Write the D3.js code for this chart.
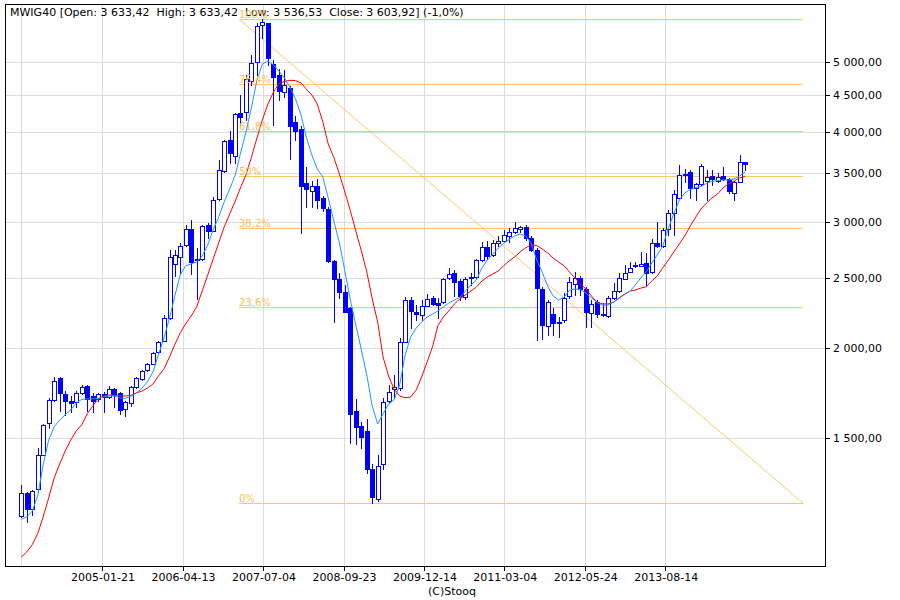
<!DOCTYPE html>
<html><head><meta charset="utf-8">
<script src="https://cdn.jsdelivr.net/npm/d3@7"></script>
<style>
body{margin:0;background:#fff}
svg{display:block;font-family:"DejaVu Sans",sans-serif}
</style>
</head><body>
<svg id="chart" width="900" height="600"></svg>
<script>
// ---------------- DATA ----------------
const title = "MWIG40 [Open: 3 633,42\u00a0\u00a0High: 3 633,42\u00a0\u00a0Low: 3 536,53\u00a0\u00a0Close: 3 603,92] (-1,0%)";
const credit = "(C)Stooq";

const months = [
"2003-10","2003-11","2003-12",
"2004-01","2004-02","2004-03","2004-04","2004-05","2004-06","2004-07","2004-08","2004-09","2004-10","2004-11","2004-12",
"2005-01","2005-02","2005-03","2005-04","2005-05","2005-06","2005-07","2005-08","2005-09","2005-10","2005-11","2005-12",
"2006-01","2006-02","2006-03","2006-04","2006-05","2006-06","2006-07","2006-08","2006-09","2006-10","2006-11","2006-12",
"2007-01","2007-02","2007-03","2007-04","2007-05","2007-06","2007-07","2007-08","2007-09","2007-10","2007-11","2007-12",
"2008-01","2008-02","2008-03","2008-04","2008-05","2008-06","2008-07","2008-08","2008-09","2008-10","2008-11","2008-12",
"2009-01","2009-02","2009-03","2009-04","2009-05","2009-06","2009-07","2009-08","2009-09","2009-10","2009-11","2009-12",
"2010-01","2010-02","2010-03","2010-04","2010-05","2010-06","2010-07","2010-08","2010-09","2010-10","2010-11","2010-12",
"2011-01","2011-02","2011-03","2011-04","2011-05","2011-06","2011-07","2011-08","2011-09","2011-10","2011-11","2011-12",
"2012-01","2012-02","2012-03","2012-04","2012-05","2012-06","2012-07","2012-08","2012-09","2012-10","2012-11","2012-12",
"2013-01","2013-02","2013-03","2013-04","2013-05","2013-06","2013-07","2013-08","2013-09","2013-10","2013-11","2013-12",
"2014-01","2014-02","2014-03","2014-04","2014-05","2014-06","2014-07","2014-08","2014-09","2014-10"];

const open = [
1168,1257,1194,1273,1421,1572,1692,1816,1727,1687,
1682,1731,1771,1716,1698,1727,1709,1753,1731,1648,
1676,1764,1810,1865,1904,1977,2047,2200,2615,2675,
2783,2926,2665,2658,2967,2914,3221,3530,3895,3705,
4243,4257,4709,5005,5630,5660,4968,4791,4549,4600,
4124,4035,3399,3303,3363,3232,3126,2641,2496,2395,
2271,1637,1559,1535,1360,1233,1381,1690,1753,1762,
2042,2333,2243,2224,2291,2346,2308,2319,2501,2546,
2477,2358,2501,2509,2652,2763,2695,2801,2822,2866,
2904,2929,2950,2846,2739,2417,2149,2229,2177,2189,
2364,2457,2501,2417,2237,2317,2231,2217,2346,2401,
2496,2551,2599,2603,2630,2554,2804,2774,2929,3080,
3237,3489,3511,3344,3380,3416,3475,3416,3471,3438,
3292,3409,3633.42];

const high = [
1290,1263,1270,1455,1570,1705,1823,1823,1743,1716,
1745,1777,1777,1731,1733,1738,1771,1759,1740,1689,
1771,1823,1865,1908,1976,2046,2224,2739,2739,2798,
2967,3015,2754,2967,2982,3248,3653,3895,4013,4243,
4498,4797,5118,5660,5733,5671,5032,4885,4874,4630,
4207,4075,3569,3416,3438,3256,3147,2652,2545,2448,
2282,1700,1581,1593,1382,1420,1705,1777,1835,2065,
2358,2358,2297,2333,2375,2364,2346,2504,2588,2571,
2496,2512,2545,2665,2812,2818,2828,2865,2920,2935,
3000,2962,2967,2860,2752,2432,2333,2272,2212,2383,
2514,2555,2520,2435,2333,2333,2308,2364,2463,2542,
2612,2638,2638,2722,2713,2837,2997,2940,3113,3319,
3596,3555,3538,3394,3607,3538,3538,3505,3577,3449,
3416,3713,3633.42];

const low = [
1166,1148,1172,1262,1419,1550,1689,1637,1613,1632,
1657,1727,1637,1632,1689,1632,1705,1659,1620,1609,
1664,1760,1806,1859,1902,1974,2046,2196,2520,2542,
2774,2534,2338,2652,2843,2911,3214,3519,3615,3615,
4087,4153,4645,4797,5400,4953,4087,4427,4463,3665,
3895,2889,3145,3142,3133,3106,2638,2178,2345,2246,
1475,1471,1453,1340,1217,1227,1360,1676,1703,1749,
2040,2132,2189,2189,2289,2297,2200,2314,2496,2364,
2333,2341,2448,2504,2644,2658,2686,2774,2818,2812,
2891,2903,2828,2730,2053,2060,2087,2087,2075,2177,
2349,2371,2371,2143,2143,2212,2217,2210,2341,2397,
2492,2549,2591,2599,2448,2546,2766,2766,2874,2874,
3234,3405,3234,3214,3369,3214,3369,3405,3427,3292,
3209,3405,3536.53];

const close = [
1257,1194,1266,1419,1562,1692,1802,1731,1687,1679,
1731,1764,1700,1687,1725,1709,1753,1725,1641,1682,
1764,1816,1859,1902,1969,2038,2200,2675,2692,2777,
2926,2638,2652,2958,2914,3214,3538,3883,3733,4229,
4197,4735,4979,5612,5675,5060,4761,4561,4645,4074,
4012,3363,3325,3363,3211,3133,2645,2496,2392,2248,
1620,1555,1506,1360,1241,1373,1682,1736,1764,2042,
2333,2255,2231,2291,2338,2304,2297,2493,2538,2472,
2364,2496,2514,2652,2763,2688,2798,2823,2873,2903,
2937,2950,2846,2736,2422,2154,2317,2166,2168,2351,
2472,2501,2417,2248,2301,2229,2224,2346,2401,2501,
2546,2584,2607,2621,2546,2804,2774,2920,3080,3272,
3485,3484,3337,3380,3584,3463,3435,3463,3435,3303,
3400,3630,3603.92];

// fast moving average (light blue)
const maFast = [
1156,1165,1187,1249,1376,1490,1554,1589,1615,1641,
1678,1697,1700,1700,1703,1711,1716,1716,1705,1703,
1714,1733,1760,1795,1853,1957,2066,2203,2356,2528,
2603,2620,2635,2686,2783,2920,3045,3193,3330,3482,
3725,3996,4315,4720,4968,5016,4953,4858,4750,4616,
4442,4220,3933,3712,3549,3459,3235,3006,2801,2561,
2333,2154,1988,1829,1667,1569,1620,1673,1694,1777,
1957,2073,2133,2175,2210,2231,2253,2282,2311,2333,
2352,2401,2448,2488,2586,2652,2704,2757,2796,2832,
2865,2883,2865,2801,2652,2553,2440,2364,2333,2356,
2409,2417,2413,2386,2349,2315,2293,2297,2318,2345,
2375,2401,2448,2504,2553,2627,2695,2774,2938,3074,
3214,3287,3324,3346,3357,3391,3411,3422,3427,3427,
3438,3471,3515];

// slow moving average (red)
const maSlow = [
1025,1041,1066,1106,1165,1238,1319,1380,1438,1490,
1534,1564,1620,1661,1700,1716,1721,1719,1716,1716,
1719,1733,1743,1760,1783,1829,1871,1945,2020,2100,
2161,2217,2281,2401,2528,2661,2801,2948,3074,3204,
3340,3482,3682,3920,4153,4371,4542,4662,4700,4715,
4712,4676,4585,4498,4371,4127,3845,3682,3493,3298,
3103,2911,2730,2545,2349,2176,1945,1829,1755,1716,
1706,1710,1749,1823,1914,2013,2147,2210,2253,2304,
2341,2371,2401,2432,2480,2512,2537,2561,2603,2644,
2677,2721,2757,2783,2779,2748,2713,2669,2635,2603,
2553,2504,2456,2417,2364,2318,2304,2304,2318,2349,
2379,2401,2409,2424,2434,2480,2520,2586,2652,2721,
2792,2865,2958,3045,3123,3183,3235,3277,3340,3384,
3416,3449,3466];

const yTicks = [1500,2000,2500,3000,3500,4000,4500,5000];
const yDomain = [992.4, 6001.3];
const xGridStart = "2003-10-31";
const xTickDates = ["2005-01-21","2006-04-13","2007-07-04","2008-09-23","2009-12-14","2011-03-04","2012-05-24","2013-08-14"];

const fibLevels = [1, 0.764, 0.618, 0.5, 0.382, 0.236, 0];
const fibLabels = ["100%","76,4%","61,8%","50%","38,2%","23,6%","0%"];
const fibHigh = 5733, fibLow = 1217;
const fibStart = "2007-02-22", fibEnd = "2015-09-19";

// ---------------- LAYOUT ----------------
const W = 900, H = 600;
const plot = {left: 5.5, right: 825.5, top: 4.5, bottom: 566.5};
const COL_CANDLE = "#0000ff", COL_FAST = "#1e96ff", COL_SLOW = "#ff0000",
      COL_FIB = "#ffc864", COL_FIB_TEXT = "#fbbd50", COL_GRID = "#dcdcdc";

const parseDay = d3.utcParse("%Y-%m-%d");
const monthEnd = s => { const [yy, mm] = s.split("-").map(Number); return new Date(Date.UTC(yy, mm, 0)); };
const dates = months.map(monthEnd);

const x = d3.scaleUtc()
  .domain([parseDay(xGridStart), parseDay(xTickDates[xTickDates.length - 1])])
  .range([21.3, 665.3]);
const y = d3.scaleLog().domain(yDomain).range([567, 5]);

const crisp = v => Math.round(v) + 0.5;
const loc = d3.formatLocale({decimal: ",", thousands: " ", grouping: [3], currency: ["", ""]});
const fmt = loc.format(",.2f");

const svg = d3.select("#chart");
svg.append("rect").attr("width", W).attr("height", H).attr("fill", "#fff");

// grid
const grid = svg.append("g").attr("stroke", COL_GRID).attr("stroke-width", 1).attr("shape-rendering", "crispEdges");
grid.selectAll("line.h").data(yTicks).join("line").attr("class", "h")
  .attr("x1", plot.left).attr("x2", plot.right)
  .attr("y1", d => crisp(y(d))).attr("y2", d => crisp(y(d)));
const gridDates = [xGridStart, ...xTickDates].map(parseDay);
grid.selectAll("line.v").data(gridDates).join("line").attr("class", "v")
  .attr("y1", plot.top).attr("y2", plot.bottom)
  .attr("x1", d => crisp(x(d))).attr("x2", d => crisp(x(d)));

// fibonacci retracement
const fx1 = x(parseDay(fibStart)), fx2 = x(parseDay(fibEnd));
const fib = svg.append("g");
fibLevels.forEach((lv, k) => {
  const py = crisp(y(fibLow + lv * (fibHigh - fibLow)));
  fib.append("line").attr("x1", Math.round(fx1)).attr("x2", Math.round(fx2))
    .attr("y1", py).attr("y2", py).attr("stroke", COL_FIB).attr("stroke-width", 1)
    .attr("shape-rendering", "crispEdges");
});
fib.append("line")
  .attr("x1", fx1).attr("y1", y(fibHigh)).attr("x2", fx2).attr("y2", y(fibLow))
  .attr("stroke", COL_FIB).attr("stroke-width", 1);

// candles
const rows = dates.map((d, i) => ({d, o: open[i], h: high[i], l: low[i], c: close[i]}));
const cg = svg.append("g").attr("shape-rendering", "crispEdges");
rows.forEach(r => {
  const cx = crisp(x(r.d));
  cg.append("line").attr("x1", cx).attr("x2", cx)
    .attr("y1", Math.round(y(r.h))).attr("y2", Math.round(y(r.l)) + 1)
    .attr("stroke", COL_CANDLE);
  const t = crisp(y(Math.max(r.o, r.c))), b = crisp(y(Math.min(r.o, r.c)));
  const up = r.c >= r.o;
  cg.append("rect").attr("x", cx - 2).attr("width", 4)
    .attr("y", t).attr("height", Math.max(b - t, 0.01))
    .attr("fill", up ? "#fff" : COL_CANDLE).attr("stroke", COL_CANDLE);
});

// moving averages
const lineFn = arr => d3.line().x((d, i) => x(dates[i])).y(d => y(d))(arr);
svg.append("path").attr("d", lineFn(maSlow)).attr("fill", "none").attr("stroke", COL_SLOW).attr("stroke-width", 1);
svg.append("path").attr("d", lineFn(maFast)).attr("fill", "none").attr("stroke", COL_FAST).attr("stroke-width", 1);

// frame & axes
const fr = svg.append("g").attr("stroke", "#000").attr("shape-rendering", "crispEdges");
fr.append("rect").attr("x", plot.left).attr("y", plot.top)
  .attr("width", plot.right - plot.left).attr("height", plot.bottom - plot.top).attr("fill", "none");
fr.selectAll("line.yt").data(yTicks).join("line").attr("class", "yt")
  .attr("x1", plot.right).attr("x2", plot.right + 4)
  .attr("y1", d => crisp(y(d))).attr("y2", d => crisp(y(d)));
fr.selectAll("line.xt").data(xTickDates.map(parseDay)).join("line").attr("class", "xt")
  .attr("y1", plot.bottom).attr("y2", plot.bottom + 4)
  .attr("x1", d => crisp(x(d))).attr("x2", d => crisp(x(d)));

svg.append("g").selectAll("text").data(yTicks).join("text")
  .attr("x", 833).attr("y", d => Math.round(y(d)) + 4)
  .attr("font-size", 11).attr("fill", "#000").text(d => fmt(d));

svg.append("g").selectAll("text").data(xTickDates).join("text")
  .attr("x", d => x(parseDay(d)) + 1).attr("y", 580.5)
  .attr("text-anchor", "middle").attr("font-size", 11).attr("fill", "#000").text(d => d);

svg.append("text").attr("x", 452).attr("y", 595).attr("text-anchor", "middle")
  .attr("font-size", 11).attr("fill", "#000").text(credit);

// title
svg.append("text").attr("x", 10).attr("y", 16).attr("font-size", 11).attr("fill", "#000")
  .text(title);

// fib labels
fibLevels.forEach((lv, k) => {
  const py = y(fibLow + lv * (fibHigh - fibLow));
  svg.append("text").attr("x", Math.round(fx1)).attr("y", Math.round(py) - 1.5)
    .attr("font-size", 10).attr("fill", COL_FIB_TEXT).text(fibLabels[k]);
});
</script>
</body></html>
